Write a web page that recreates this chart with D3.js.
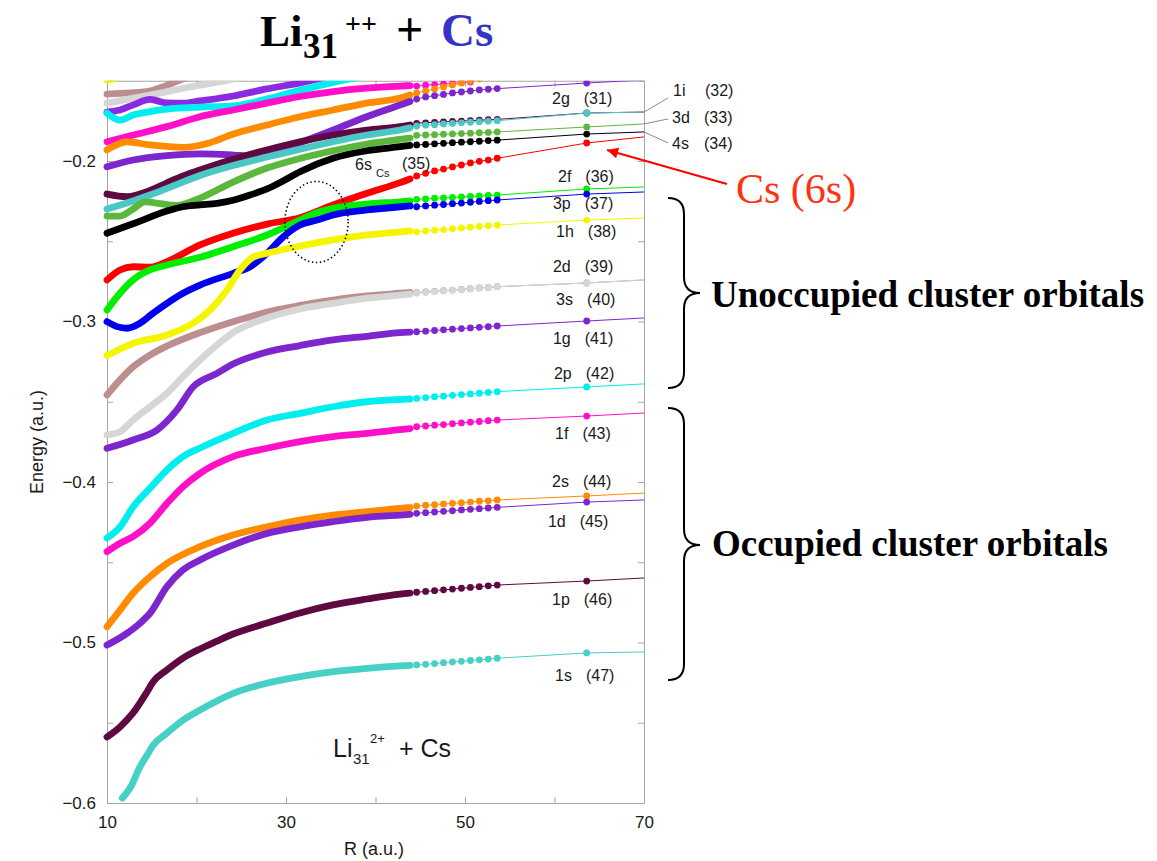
<!DOCTYPE html>
<html><head><meta charset="utf-8">
<script src="https://cdn.jsdelivr.net/npm/d3@7"></script>
<style>body{margin:0;background:#fff}svg{display:block}</style>
</head><body>
<svg id="chart" width="1157" height="861"></svg>
<script>
// ---------------- DATA ----------------
const seriesColors = ["#f2f200","#bc8f8f","#d6d6d6","#8a2be2","#00eeee","#ff10c8","#ff8c00",
  "#7d26cd","#5e0a40","#4cc8c4","#5cb83c","#000000","#ff0000","#00ee00","#0000ee","#f5f500",
  "#bc8f8f","#d6d6d6","#7d26cd","#00eeee","#ff10c8","#ff8c00","#7d26cd","#5e0a40","#46d0c6"];

const denseCurves = [
 [[10,-0.1495],[10.7,-0.1489],[11.3,-0.1475]],
 [[10,-0.1583],[12.57,-0.1576],[14.8,-0.1564],[16.82,-0.1526],[18.72,-0.1483],[20,-0.146]],
 [[10,-0.1639],[14.8,-0.1589],[19.27,-0.1539],[24.3,-0.1489],[25.98,-0.1470]],
 [[10,-0.1695],[11.45,-0.1682],[12.94,-0.1650],[14.8,-0.1616],[16.67,-0.1638],[18.53,-0.1640],[20.39,-0.1626],[24.11,-0.1595],[27.84,-0.1551],[31.56,-0.1514],[34.54,-0.1476],[36,-0.146]],
 [[10,-0.1701],[11.45,-0.1745],[12.94,-0.1713],[14.8,-0.1692],[16.67,-0.1677],[20.39,-0.1664],[24.11,-0.1656],[25.98,-0.1639],[27.84,-0.1614],[31.56,-0.1560],[35.29,-0.1510],[37.15,-0.1489],[38.5,-0.1475]],
 [[10,-0.1880],[12.94,-0.1838],[16.67,-0.1786],[20.39,-0.1724],[24.11,-0.1682],[27.84,-0.1639],[31.56,-0.1598],[35.29,-0.1567],[39.02,-0.1546],[42.74,-0.1533],[43.85,-0.1530]],
 [[10,-0.1931],[12.23,-0.1880],[14.8,-0.1900],[18.53,-0.1915],[21.51,-0.1886],[24.11,-0.1832],[27.84,-0.1776],[31.56,-0.1724],[35.29,-0.1682],[39.02,-0.1639],[42.74,-0.1608],[43.85,-0.1589]],
 [[10,-0.2036],[12.94,-0.1994],[16.67,-0.1967],[20.39,-0.1956],[24.11,-0.1963],[25.98,-0.1969],[27.84,-0.1948],[31.56,-0.1886],[35.29,-0.1807],[39.02,-0.1724],[42.74,-0.1651],[43.85,-0.1629]],
 [[10,-0.2206],[12.23,-0.2222],[14.8,-0.2184],[16.67,-0.2137],[18.49,-0.2093],[20.39,-0.2056],[24.11,-0.1989],[27.84,-0.1931],[31.56,-0.1880],[35.29,-0.1838],[39.02,-0.1807],[42.74,-0.1786],[43.85,-0.1776]],
 [[10,-0.2299],[12.91,-0.2249],[14.8,-0.2212],[16.7,-0.2171],[20.39,-0.2090],[24.08,-0.2028],[27.88,-0.1975],[31.56,-0.1927],[35.25,-0.1880],[39.05,-0.1838],[42.74,-0.1807],[43.85,-0.1794]],
 [[10,-0.2343],[11.45,-0.2343],[12.91,-0.2299],[14.25,-0.2255],[15.92,-0.2265],[17.82,-0.2277],[20.39,-0.2231],[24.08,-0.2131],[27.88,-0.2044],[31.56,-0.1984],[35.25,-0.1936],[39.05,-0.1894],[42.74,-0.1865],[43.85,-0.1857]],
 [[10,-0.2450],[12.91,-0.2391],[16.7,-0.2312],[18.49,-0.2285],[20.39,-0.2274],[22.29,-0.2264],[24.08,-0.2245],[25.98,-0.2212],[27.88,-0.2174],[29.66,-0.2125],[31.56,-0.2067],[35.25,-0.1983],[39.05,-0.1936],[42.74,-0.1911],[43.85,-0.1903]],
 [[10,-0.2741],[11.45,-0.2679],[12.91,-0.2659],[14.8,-0.2662],[16.7,-0.2627],[20.39,-0.2523],[24.08,-0.2450],[27.88,-0.2393],[31.56,-0.2353],[35.25,-0.2274],[39.05,-0.2201],[42.74,-0.2135],[43.85,-0.2112]],
 [[10,-0.2928],[11.45,-0.2824],[12.91,-0.2741],[14.8,-0.2679],[16.7,-0.2648],[20.39,-0.2600],[24.08,-0.2534],[27.88,-0.2461],[31.56,-0.2368],[33.46,-0.2322],[35.25,-0.2295],[39.05,-0.2268],[42.74,-0.2254],[43.85,-0.2249]],
 [[10,-0.3001],[11.12,-0.3032],[12.23,-0.3042],[13.69,-0.3011],[15.14,-0.2949],[16.7,-0.2887],[18.49,-0.2824],[20.39,-0.2773],[24.08,-0.2700],[25.98,-0.2659],[27.88,-0.2575],[29.66,-0.2474],[31.56,-0.2399],[33.46,-0.2368],[35.25,-0.2336],[39.05,-0.2305],[42.74,-0.2285],[43.85,-0.2280]],
 [[10,-0.3212],[12.91,-0.3136],[16.7,-0.3084],[19.61,-0.3011],[21.51,-0.2928],[23.41,-0.2804],[24.86,-0.2679],[26.31,-0.2600],[27.88,-0.2575],[31.56,-0.2530],[35.25,-0.2492],[39.05,-0.2461],[42.74,-0.2441],[43.85,-0.2436]],
 [[10,-0.3458],[11.45,-0.3364],[12.91,-0.3283],[14.8,-0.3209],[16.7,-0.3153],[20.39,-0.3069],[24.08,-0.3001],[27.88,-0.2941],[31.56,-0.2900],[35.25,-0.2866],[39.05,-0.2841],[42.74,-0.2824],[43.85,-0.2819]],
 [[10,-0.3707],[11.45,-0.3687],[12.91,-0.3614],[14.8,-0.3531],[16.7,-0.3447],[18.49,-0.3344],[20.39,-0.3240],[22.29,-0.3146],[24.08,-0.3069],[27.88,-0.2978],[31.56,-0.2922],[35.25,-0.2887],[39.05,-0.2855],[42.74,-0.2835],[43.85,-0.2829]],
 [[10,-0.3790],[12.91,-0.3738],[15.59,-0.3676],[17.82,-0.3551],[19.61,-0.3408],[22.29,-0.3323],[24.08,-0.3265],[27.88,-0.3190],[31.56,-0.3150],[35.25,-0.3115],[39.05,-0.3092],[42.74,-0.3069],[43.85,-0.3066]],
 [[10,-0.4349],[11.45,-0.4280],[12.91,-0.4156],[14.8,-0.4039],[16.7,-0.3925],[18.49,-0.3842],[20.39,-0.3788],[23.41,-0.3713],[27.88,-0.3614],[31.56,-0.3572],[35.25,-0.3531],[39.05,-0.3500],[42.74,-0.3486],[43.85,-0.3483]],
 [[10,-0.4434],[11.45,-0.4382],[12.91,-0.4341],[14.8,-0.4257],[16.7,-0.4133],[18.49,-0.4029],[20.39,-0.3946],[24.08,-0.3842],[27.88,-0.3790],[31.56,-0.3749],[35.25,-0.3718],[39.05,-0.3697],[42.74,-0.3673],[43.85,-0.3667]],
 [[10,-0.4902],[11.45,-0.4798],[12.91,-0.4693],[14.8,-0.4590],[16.7,-0.4507],[20.39,-0.4403],[24.08,-0.4330],[27.88,-0.4279],[31.56,-0.4237],[35.25,-0.4206],[39.05,-0.4185],[42.74,-0.4164],[43.85,-0.4159]],
 [[10,-0.5016],[12.23,-0.4943],[13.69,-0.4880],[14.8,-0.4818],[16.7,-0.4652],[18.49,-0.4548],[20.39,-0.4486],[24.08,-0.4393],[27.88,-0.4320],[31.56,-0.4279],[35.25,-0.4247],[39.05,-0.4220],[42.74,-0.4206],[43.85,-0.4202]],
 [[10,-0.5589],[11.45,-0.5526],[12.91,-0.5439],[14.47,-0.5308],[15.14,-0.5246],[16.7,-0.5171],[18.49,-0.5097],[20.39,-0.5040],[22.29,-0.4991],[24.08,-0.4947],[27.88,-0.4879],[31.56,-0.4816],[35.25,-0.4766],[39.05,-0.4729],[42.74,-0.4698],[43.85,-0.4692]],
 [[11.7,-0.5969],[12.01,-0.5950],[12.76,-0.5888],[13.6,-0.5784],[14.61,-0.5690],[15.17,-0.5639],[16.66,-0.5566],[18.51,-0.5483],[20.39,-0.5421],[24.1,-0.5317],[27.84,-0.5254],[31.56,-0.5213],[35.29,-0.5182],[39.02,-0.5161],[42.74,-0.5146],[43.85,-0.5143]]
];

const sparseR = [44.6,45.6,46.6,47.6,48.6,49.6,50.6,51.6,52.6,53.6];
const sparseE = [
 null,null,null,null,null,
 [-0.1533,-0.1528,-0.1524,-0.1520,-0.1516,-0.1512,-0.1508],
 [-0.1576,-0.1564,-0.1551,-0.1539,-0.1526,-0.1514,-0.1502,-0.1489,-0.1477,-0.1464],
 [-0.1614,-0.1601,-0.1593,-0.1585,-0.1576,-0.1570,-0.1564,-0.1557,-0.1553,-0.1549],
 [-0.1765,-0.1762,-0.1759,-0.1756,-0.1753,-0.1751,-0.1748,-0.1746,-0.1743,-0.1741],
 [-0.1782,-0.1777,-0.1774,-0.1769,-0.1766,-0.1762,-0.1758,-0.1755,-0.1752,-0.1749],
 [-0.1840,-0.1838,-0.1836,-0.1833,-0.1831,-0.1829,-0.1827,-0.1824,-0.1822,-0.1819],
 [-0.1900,-0.1897,-0.1893,-0.1890,-0.1886,-0.1883,-0.1880,-0.1877,-0.1873,-0.1870],
 [-0.2093,-0.2077,-0.2062,-0.2050,-0.2037,-0.2025,-0.2012,-0.2002,-0.1994,-0.1983],
 [-0.2239,-0.2236,-0.2232,-0.2230,-0.2227,-0.2224,-0.2221,-0.2218,-0.2215,-0.2212],
 [-0.2285,-0.2280,-0.2275,-0.2271,-0.2266,-0.2262,-0.2257,-0.2252,-0.2247,-0.2243],
 [-0.2441,-0.2436,-0.2431,-0.2427,-0.2422,-0.2417,-0.2412,-0.2408,-0.2403,-0.2399],
 [-0.2821,-0.2816,-0.2812,-0.2808,-0.2804,-0.2800,-0.2796,-0.2791,-0.2788,-0.2783],
 [-0.2823,-0.2818,-0.2814,-0.2810,-0.2805,-0.2801,-0.2796,-0.2792,-0.2788,-0.2783],
 [-0.3064,-0.3060,-0.3056,-0.3052,-0.3048,-0.3044,-0.3040,-0.3036,-0.3032,-0.3028],
 [-0.3479,-0.3474,-0.3469,-0.3465,-0.3460,-0.3455,-0.3451,-0.3447,-0.3442,-0.3437],
 [-0.3655,-0.3651,-0.3646,-0.3642,-0.3637,-0.3632,-0.3627,-0.3623,-0.3618,-0.3614],
 [-0.4150,-0.4145,-0.4141,-0.4137,-0.4133,-0.4129,-0.4125,-0.4120,-0.4117,-0.4112],
 [-0.4195,-0.4191,-0.4187,-0.4183,-0.4179,-0.4174,-0.4170,-0.4166,-0.4162,-0.4158],
 [-0.4687,-0.4682,-0.4677,-0.4672,-0.4667,-0.4662,-0.4657,-0.4652,-0.4647,-0.4642],
 [-0.5140,-0.5136,-0.5131,-0.5126,-0.5121,-0.5117,-0.5112,-0.5108,-0.5103,-0.5098]
];

const farR = [63.6, 70];
const farE = [
 null,null,null,null,null,null,null,
 [-0.1514,-0.1495],[-0.1701,-0.1695],[-0.1701,-0.1695],[-0.1788,-0.1769],[-0.1832,-0.1819],
 [-0.1888,-0.1850],[-0.2174,-0.2162],[-0.2206,-0.2193],[-0.2368,-0.2355],[-0.2760,-0.2741],
 [-0.2760,-0.2741],[-0.2997,-0.2978],[-0.3408,-0.3389],[-0.3589,-0.3570],[-0.4087,-0.4069],
 [-0.4125,-0.4112],[-0.4617,-0.4598],[-0.5065,-0.5059]
];

const labelNames = ["2g","1i","3d","4s","2f","3p","1h","2d","3s","1g","2p","1f","2s","1d","1p","1s"];
const labelNums  = ["(31)","(32)","(33)","(34)","(36)","(37)","(38)","(39)","(40)","(41)","(42)","(43)","(44)","(45)","(46)","(47)"];
const labelR = [59.72,73.24,73.13,73.13,60.39,59.83,60.17,59.83,60.17,59.83,59.94,60.06,59.72,59.27,59.72,60.06];
const labelE = [-0.1645,-0.1595,-0.1763,-0.1925,-0.2131,-0.2299,-0.2474,-0.2692,-0.2897,-0.3140,-0.3358,-0.3732,-0.4031,-0.4280,-0.4766,-0.5240];

const xTicks = [10,20,30,40,50,60,70];
const xTickLabels = [10,30,50,70];
const yTicks = [-0.6,-0.55,-0.5,-0.45,-0.4,-0.35,-0.3,-0.25,-0.2,-0.15];
const yTickLabels = [-0.6,-0.5,-0.4,-0.3,-0.2];

// ---------------- DRAW ----------------
const svg = d3.select("#chart");
const x = d3.scaleLinear().domain([10,70]).range([107,644]);
const y = d3.scaleLinear().domain([-0.6,-0.15]).range([803,80.75]);
const sans = "'Liberation Sans', Arial, Helvetica, sans-serif";
const serif = "'Liberation Serif', 'Times New Roman', serif";
const axisGray = "#a6a6a6";

svg.append("rect").attr("width",1157).attr("height",861).attr("fill","#fff");

svg.append("defs").append("clipPath").attr("id","clip")
  .append("rect").attr("x",0).attr("y",y(-0.15)).attr("width",1157).attr("height",y(-0.6)-y(-0.15));

function styleAxis(g){
  g.select(".domain").attr("stroke",axisGray);
  g.selectAll(".tick line").attr("stroke",axisGray);
  g.selectAll(".tick text").attr("fill","#1a1a1a").style("font-family",sans).style("font-size","17px");
}
const fmtX = d => xTickLabels.includes(d) ? String(d) : "";
const fmtY = d => yTickLabels.some(v => Math.abs(v-d)<1e-9) ? "\u2212" + Math.abs(d).toFixed(1) : "";
svg.append("g").attr("transform",`translate(0,${y(-0.6)})`)
  .call(d3.axisBottom(x).tickValues(xTicks).tickSize(-6).tickSizeOuter(0).tickPadding(13).tickFormat(fmtX)).call(styleAxis);
svg.append("g").attr("transform",`translate(0,${y(-0.15)})`)
  .call(d3.axisTop(x).tickValues(xTicks).tickSize(-6).tickSizeOuter(0).tickFormat("")).call(styleAxis);
svg.append("g").attr("transform",`translate(${x(10)},0)`)
  .call(d3.axisLeft(y).tickValues(yTicks).tickSize(-6).tickSizeOuter(0).tickPadding(11).tickFormat(fmtY)).call(styleAxis);
svg.append("g").attr("transform",`translate(${x(70)},0)`)
  .call(d3.axisRight(y).tickValues(yTicks).tickSize(-6).tickSizeOuter(0).tickFormat("")).call(styleAxis);

// curves
const plot = svg.append("g").attr("clip-path","url(#clip)");
const thick = d3.line().x(d=>x(d[0])).y(d=>y(d[1])).curve(d3.curveMonotoneX);
const thin = d3.line().x(d=>x(d[0])).y(d=>y(d[1]));

denseCurves.forEach((pts,i)=>{
  const c = seriesColors[i];
  const g = plot.append("g");
  const tail = [pts[pts.length-1]];
  if (sparseE[i]) sparseE[i].forEach((e,j)=>tail.push([sparseR[j],e]));
  if (farE[i]) farE[i].forEach((e,j)=>tail.push([farR[j],e]));
  if (tail.length>1) g.append("path").attr("d",thin(tail)).attr("fill","none").attr("stroke",c).attr("stroke-width",1);
  g.append("path").attr("d",thick(pts)).attr("fill","none").attr("stroke",c)
    .attr("stroke-width",6.8).attr("stroke-linecap","round").attr("stroke-linejoin","round");
  if (sparseE[i]) g.selectAll("circle.s").data(sparseE[i]).enter().append("circle")
     .attr("cx",(e,j)=>x(sparseR[j])).attr("cy",e=>y(e)).attr("r",3.4).attr("fill",c);
  if (farE[i]) g.append("circle").attr("cx",x(farR[0])).attr("cy",y(farE[i][0])).attr("r",3.4).attr("fill",c);
});

// leader lines for right-side labels
const leaders = [[-0.1695,-0.1607],[-0.1769,-0.1738],[-0.1819,-0.1888]];
leaders.forEach(l=>{
  svg.append("line").attr("x1",x(70)).attr("y1",y(l[0])).attr("x2",x(72.7)).attr("y2",y(l[1]))
    .attr("stroke","#8a8a8a").attr("stroke-width",1);
});

// level labels
labelNames.forEach((n,i)=>{
  const right = labelR[i] > 70;
  const t = svg.append("text").attr("x",x(labelR[i])).attr("y",y(labelE[i]))
    .style("font-family",sans).style("font-size","16px").attr("fill","#1a1a1a");
  t.append("tspan").text(n);
  if (right) t.append("tspan").attr("x",x(labelR[i])+32).text(labelNums[i]);
  else t.append("tspan").attr("dx",14).text(labelNums[i]);
});
// 6s_Cs (35)
{
  const t = svg.append("text").style("font-family",sans).attr("fill","#1a1a1a");
  t.append("tspan").attr("x",x(37.71)).attr("y",y(-0.2056)).style("font-size","16px").text("6s");
  t.append("tspan").attr("x",x(37.71)+21).attr("y",y(-0.2056)+7).style("font-size","11px").text("Cs");
  t.append("tspan").attr("x",x(42.96)).attr("y",y(-0.2056)-1).style("font-size","16px").text("(35)");
}

// dotted ellipse
svg.append("ellipse").attr("cx",x(33.41)).attr("cy",y(-0.2380))
  .attr("rx",x(33.41+3.53)-x(33.41)).attr("ry",y(-0.2380)-y(-0.2380+0.02523))
  .attr("fill","none").attr("stroke","#000").attr("stroke-width",1.6).attr("stroke-dasharray","1.4,2.6");

// axis titles
svg.append("text").attr("x",374).attr("y",855).attr("text-anchor","middle")
  .style("font-family",sans).style("font-size","18px").attr("fill","#1a1a1a").text("R (a.u.)");
svg.append("text").attr("transform","translate(43,442) rotate(-90)").attr("text-anchor","middle")
  .style("font-family",sans).style("font-size","18px").attr("fill","#1a1a1a").text("Energy (a.u.)");

// inner annotation Li31 2+ + Cs
{
  const t = svg.append("text").style("font-family",sans).attr("fill","#1a1a1a");
  t.append("tspan").attr("x",333).attr("y",757).style("font-size","25px").text("Li");
  t.append("tspan").attr("x",353).attr("y",764).style("font-size","15px").text("31");
  t.append("tspan").attr("x",370).attr("y",743).style("font-size","13px").text("2+");
  t.append("tspan").attr("x",399).attr("y",757).style("font-size","25px").text("+ Cs");
}

// title
{
  const t = svg.append("text").style("font-family",serif).style("font-weight","bold").attr("fill","#000");
  t.append("tspan").attr("x",260).attr("y",46).style("font-size","45px").text("Li");
  t.append("tspan").attr("x",303).attr("y",58).style("font-size","35px").text("31");
  t.append("tspan").attr("x",345).attr("y",33).style("font-size","28px").text("++");
  t.append("tspan").attr("x",396).attr("y",46).style("font-size","48px").text("+");
  t.append("tspan").attr("x",441).attr("y",46).style("font-size","47px").attr("fill","#3434c6").text("Cs");
}

// red arrow + Cs (6s)
svg.append("defs").append("marker").attr("id","ah").attr("viewBox","0 0 10 10").attr("refX",10).attr("refY",5)
  .attr("markerWidth",26).attr("markerHeight",11).attr("markerUnits","userSpaceOnUse").attr("orient","auto")
  .append("path").attr("d","M0,0 L10,5 L0,10 Z").attr("fill","#ff0000");
svg.append("line").attr("x1",x(79.27)).attr("y1",y(-0.2143)).attr("x2",x(65.87)).attr("y2",y(-0.1931))
  .attr("stroke","#ff0000").attr("stroke-width",2).attr("marker-end","url(#ah)");
svg.append("text").attr("x",736).attr("y",203).style("font-family",serif).style("font-size","42px")
  .attr("fill","#ff3311").text("Cs (6s)");

// braces
function brace(y0,ym,y1){
  const x0=668,xs=684,xt=700,r=16;
  return `M${x0},${y0} Q${xs},${y0} ${xs},${y0+r} L${xs},${ym-r} Q${xs},${ym} ${xt},${ym} Q${xs},${ym} ${xs},${ym+r} L${xs},${y1-r} Q${xs},${y1} ${x0},${y1}`;
}
svg.append("path").attr("d",brace(y(-0.2231),y(-0.2822),y(-0.3414))).attr("fill","none").attr("stroke","#000").attr("stroke-width",2);
svg.append("path").attr("d",brace(y(-0.3539),y(-0.4393),y(-0.5234))).attr("fill","none").attr("stroke","#000").attr("stroke-width",2);
svg.append("text").attr("x",711).attr("y",307).style("font-family",serif).style("font-weight","bold")
  .style("font-size","37px").attr("fill","#000").text("Unoccupied cluster orbitals");
svg.append("text").attr("x",712).attr("y",556).style("font-family",serif).style("font-weight","bold")
  .style("font-size","37px").attr("fill","#000").text("Occupied cluster orbitals");
</script>
</body></html>
